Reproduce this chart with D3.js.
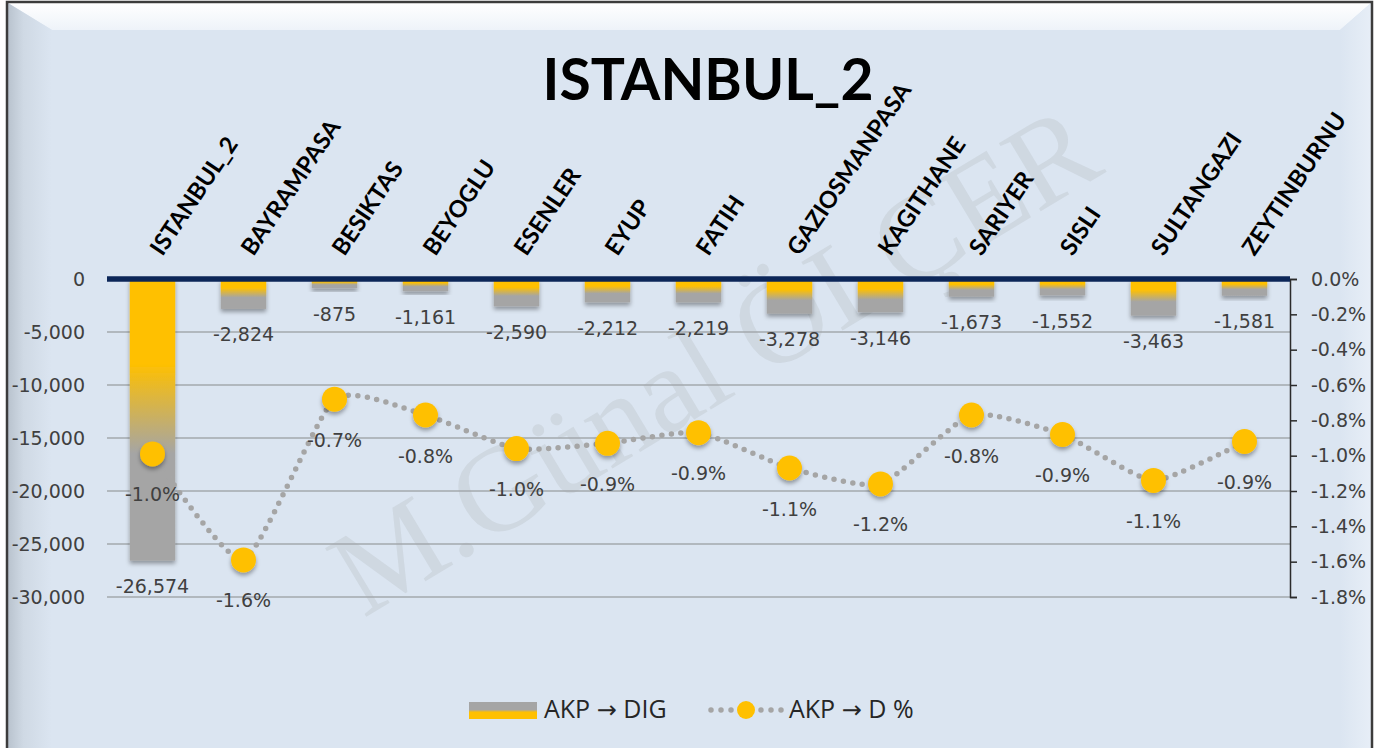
<!DOCTYPE html>
<html>
<head>
<meta charset="utf-8">
<script src="https://cdn.jsdelivr.net/npm/d3@7"></script>
<style>
    body { margin: 0; background: #fff; }
    svg { display: block; }
</style>
</head>
<body>
<svg id="chart"></svg>
<script>
// data
const CATEGORIES = ['ISTANBUL_2', 'BAYRAMPASA', 'BESIKTAS', 'BEYOGLU', 'ESENLER', 'EYUP', 'FATIH',
    'GAZIOSMANPASA', 'KAGITHANE', 'SARIYER', 'SISLI', 'SULTANGAZI', 'ZEYTINBURNU'];
const DIG_VALUES = [-26574, -2824, -875, -1161, -2590, -2212, -2219, -3278, -3146, -1673, -1552, -3463, -1581];
const PCT_VALUES = [-0.99, -1.59, -0.68, -0.77, -0.96, -0.93, -0.87, -1.07, -1.16, -0.77, -0.88, -1.14, -0.92];
const LEFT_TICKS = [0, -5000, -10000, -15000, -20000, -25000, -30000];
const RIGHT_TICKS = [0, -0.2, -0.4, -0.6, -0.8, -1.0, -1.2, -1.4, -1.6, -1.8];
const TITLE = 'ISTANBUL_2';
const LEGEND_BAR = ['AKP ', '\u2192', ' DIG'];
const LEGEND_LINE = ['AKP ', '\u2192', ' D %'];
const WATERMARK = 'M.G\u00fcnal \u00d6L\u00c7ER';

const WIDTH = 1383;
const HEIGHT = 748;

const PLOT_LEFT = 107;
const PLOT_RIGHT = 1290;
const Y_ZERO = 279;
const Y_BOTTOM = 597;

const COLORS = {
    face: '#dbe5f1',
    yellow: '#ffc000',
    gray: '#a5a5a5',
    zero: '#0c2658',
    grid: '#a3a8ad',
    text: '#404040'
};
const NUM_FONT = '"DejaVu Sans", Verdana, sans-serif';
const CAT_FONT = 'Lato, "Open Sans", sans-serif';
const LEG_FONT = '"Open Sans", sans-serif';

// plain hyphen as minus sign, like the original
const locale = d3.formatLocale({ decimal: '.', thousands: ',', grouping: [3], currency: ['', ''], minus: '-' });
const fmtNum = locale.format(',');
const fmtPct = d => locale.format('.1%')(d / 100);

const svg = d3.select('#chart').attr('width', WIDTH).attr('height', HEIGHT);
const defs = svg.append('defs');

const x = d3.scaleBand()
    .domain(CATEGORIES)
    .range([PLOT_LEFT, PLOT_RIGHT])
    .paddingInner(0.5)
    .paddingOuter(0.25);
const y = d3.scaleLinear().domain([-30000, 0]).range([Y_BOTTOM, Y_ZERO]);
const yPct = d3.scaleLinear().domain([-1.8, 0]).range([Y_BOTTOM, Y_ZERO]);

makeDefs();
drawFrame();
drawWatermark();
drawTitle();
drawGrid();
drawBars();
drawLine();
drawAxes();
drawCategoryLabels();
drawLegend();

function makeDefs() {
    const barGrad = defs.append('linearGradient')
        .attr('id', 'barGrad').attr('x1', 0).attr('y1', 0).attr('x2', 0).attr('y2', 1);
    barGrad.append('stop').attr('offset', '0').attr('stop-color', COLORS.yellow);
    barGrad.append('stop').attr('offset', '0.3').attr('stop-color', COLORS.yellow);
    barGrad.append('stop').attr('offset', '0.62').attr('stop-color', COLORS.gray);
    barGrad.append('stop').attr('offset', '1').attr('stop-color', COLORS.gray);

    const legGrad = defs.append('linearGradient')
        .attr('id', 'legGrad').attr('x1', 0).attr('y1', 0).attr('x2', 0).attr('y2', 1);
    legGrad.append('stop').attr('offset', '0').attr('stop-color', COLORS.gray);
    legGrad.append('stop').attr('offset', '0.45').attr('stop-color', COLORS.gray);
    legGrad.append('stop').attr('offset', '0.6').attr('stop-color', COLORS.yellow);
    legGrad.append('stop').attr('offset', '1').attr('stop-color', COLORS.yellow);

    const topGrad = defs.append('linearGradient')
        .attr('id', 'topGrad').attr('x1', 0).attr('y1', 0).attr('x2', 0).attr('y2', 1);
    topGrad.append('stop').attr('offset', '0').attr('stop-color', '#ffffff');
    topGrad.append('stop').attr('offset', '1').attr('stop-color', '#eef3f9');

    const leftGrad = defs.append('linearGradient')
        .attr('id', 'leftGrad').attr('x1', 0).attr('y1', 0).attr('x2', 1).attr('y2', 0);
    leftGrad.append('stop').attr('offset', '0').attr('stop-color', '#b9c3ce');
    leftGrad.append('stop').attr('offset', '0.35').attr('stop-color', '#cfd9e4');
    leftGrad.append('stop').attr('offset', '1').attr('stop-color', COLORS.face);

    const rightGrad = defs.append('linearGradient')
        .attr('id', 'rightGrad').attr('x1', 0).attr('y1', 0).attr('x2', 1).attr('y2', 0);
    rightGrad.append('stop').attr('offset', '0').attr('stop-color', COLORS.face);
    rightGrad.append('stop').attr('offset', '1').attr('stop-color', '#e7eef7');

    const shadow = defs.append('filter').attr('id', 'shadow')
        .attr('x', '-30%').attr('y', '-30%').attr('width', '160%').attr('height', '160%');
    shadow.append('feDropShadow')
        .attr('dx', 0).attr('dy', 3).attr('stdDeviation', 2)
        .attr('flood-color', '#000').attr('flood-opacity', 0.35);

    const soft = defs.append('filter').attr('id', 'soft');
    soft.append('feGaussianBlur').attr('stdDeviation', 0.6);
}

function drawFrame() {
    svg.append('rect')
        .attr('x', 8).attr('y', 3).attr('width', 1363).attr('height', HEIGHT)
        .attr('fill', COLORS.face);
    // bevel edges
    svg.append('path')
        .attr('d', 'M8,3 L1371,3 L1340,30 L52,30 Z')
        .attr('fill', 'url(#topGrad)');
    svg.append('path')
        .attr('d', 'M8,3 L52,30 L52,' + HEIGHT + ' L8,' + HEIGHT + ' Z')
        .attr('fill', 'url(#leftGrad)');
    svg.append('path')
        .attr('d', 'M1371,3 L1340,30 L1340,' + HEIGHT + ' L1371,' + HEIGHT + ' Z')
        .attr('fill', 'url(#rightGrad)');
    svg.append('rect')
        .attr('x', 7).attr('y', 2).attr('width', 1365).attr('height', HEIGHT + 10)
        .attr('fill', 'none').attr('stroke', '#3c3c3c').attr('stroke-width', 2.5);
}

function drawWatermark() {
    svg.append('text')
        .text(WATERMARK)
        .attr('transform', 'translate(735,395) rotate(-31)')
        .attr('text-anchor', 'middle')
        .attr('font-family', '"Liberation Serif", "DejaVu Serif", serif')
        .attr('font-size', 122)
        .attr('fill', '#b4b8bc')
        .attr('fill-opacity', 0.3);
}

function drawTitle() {
    svg.append('text')
        .text(TITLE)
        .attr('x', 708).attr('y', 100)
        .attr('text-anchor', 'middle')
        .attr('font-family', CAT_FONT)
        .attr('font-weight', 700)
        .attr('font-size', 57)
        .attr('fill', '#000');
}

function drawGrid() {
    svg.append('g')
        .selectAll('line')
        .data(LEFT_TICKS.filter(d => d !== 0))
        .join('line')
        .attr('x1', PLOT_LEFT).attr('x2', PLOT_RIGHT)
        .attr('y1', d => y(d)).attr('y2', d => y(d))
        .attr('stroke', COLORS.grid).attr('stroke-width', 1.5);
}

function drawBars() {
    const bars = svg.append('g');
    bars.selectAll('rect')
        .data(DIG_VALUES)
        .join('rect')
        .attr('x', (d, i) => x(CATEGORIES[i]))
        .attr('y', y(0))
        .attr('width', x.bandwidth())
        .attr('height', d => y(d) - y(0))
        .attr('fill', 'url(#barGrad)')
        .attr('filter', 'url(#shadow)');

    bars.selectAll('text')
        .data(DIG_VALUES)
        .join('text')
        .text(d => fmtNum(d))
        .attr('x', (d, i) => x(CATEGORIES[i]) + x.bandwidth() / 2)
        .attr('y', d => y(d) + 27)
        .attr('text-anchor', 'middle')
        .attr('dominant-baseline', 'middle')
        .attr('font-family', NUM_FONT)
        .attr('font-size', 19)
        .attr('fill', COLORS.text);
}

function drawLine() {
    const cx = i => x(CATEGORIES[i]) + x.bandwidth() / 2;
    const line = d3.line()
        .x((d, i) => cx(i))
        .y(d => yPct(d))
        .curve(d3.curveCardinal.tension(0.45));

    const g = svg.append('g');
    g.append('path')
        .datum(PCT_VALUES)
        .attr('d', line)
        .attr('fill', 'none')
        .attr('stroke', COLORS.gray)
        .attr('stroke-width', 5.5)
        .attr('stroke-linecap', 'round')
        .attr('stroke-dasharray', '0 9.5')
        .attr('filter', 'url(#soft)');

    g.selectAll('circle')
        .data(PCT_VALUES)
        .join('circle')
        .attr('cx', (d, i) => cx(i))
        .attr('cy', d => yPct(d))
        .attr('r', 12.5)
        .attr('fill', COLORS.yellow)
        .attr('filter', 'url(#shadow)');

    g.selectAll('text')
        .data(PCT_VALUES)
        .join('text')
        .text(d => fmtPct(d))
        .attr('x', (d, i) => cx(i))
        .attr('y', d => yPct(d) + 42)
        .attr('text-anchor', 'middle')
        .attr('dominant-baseline', 'middle')
        .attr('font-family', NUM_FONT)
        .attr('font-size', 19)
        .attr('fill', COLORS.text);
}

function drawAxes() {
    const left = svg.append('g')
        .attr('transform', 'translate(' + (PLOT_LEFT - 19) + ',0)')
        .call(d3.axisLeft(y).tickValues(LEFT_TICKS).tickSize(0).tickFormat(fmtNum));
    left.select('.domain').remove();
    left.selectAll('text')
        .attr('font-family', NUM_FONT).attr('font-size', 19).attr('fill', COLORS.text);

    const right = svg.append('g')
        .attr('transform', 'translate(' + PLOT_RIGHT + ',0)')
        .call(d3.axisRight(yPct).tickValues(RIGHT_TICKS).tickSize(7).tickSizeOuter(7)
            .tickPadding(14).tickFormat(fmtPct));
    right.select('.domain').attr('stroke', '#2b2b2b').attr('stroke-width', 1.5);
    right.selectAll('.tick line').attr('stroke', '#2b2b2b').attr('stroke-width', 1.5);
    right.selectAll('text')
        .attr('font-family', NUM_FONT).attr('font-size', 19).attr('fill', COLORS.text);

    // bold zero line across the plot
    svg.append('line')
        .attr('x1', PLOT_LEFT).attr('x2', PLOT_RIGHT)
        .attr('y1', y(0)).attr('y2', y(0))
        .attr('stroke', COLORS.zero).attr('stroke-width', 5.5);
}

function drawCategoryLabels() {
    svg.append('g')
        .selectAll('text')
        .data(CATEGORIES)
        .join('text')
        .text(d => d)
        .attr('transform', d => 'translate(' + (x(d) + x.bandwidth() / 2 + 10) + ',257) rotate(-56)')
        .attr('font-family', CAT_FONT)
        .attr('font-weight', 700)
        .attr('font-size', 23.5)
        .attr('fill', '#000');
}

function legendText(g, parts, xPos) {
    const t = g.append('text')
        .attr('x', xPos).attr('y', 718)
        .attr('font-family', LEG_FONT)
        .attr('font-size', 25)
        .attr('fill', '#262626');
    t.append('tspan').text(parts[0]);
    t.append('tspan').text(parts[1]).attr('font-family', NUM_FONT).attr('font-size', 24);
    t.append('tspan').text(parts[2]);
}

function drawLegend() {
    const g = svg.append('g');
    g.append('rect')
        .attr('x', 469).attr('y', 702).attr('width', 68).attr('height', 17)
        .attr('fill', 'url(#legGrad)');
    legendText(g, LEGEND_BAR, 544);

    g.append('line')
        .attr('x1', 711).attr('x2', 782)
        .attr('y1', 710).attr('y2', 710)
        .attr('stroke', COLORS.gray)
        .attr('stroke-width', 5.5)
        .attr('stroke-linecap', 'round')
        .attr('stroke-dasharray', '0 10');
    g.append('circle')
        .attr('cx', 746).attr('cy', 710).attr('r', 9)
        .attr('fill', COLORS.yellow);
    legendText(g, LEGEND_LINE, 789);
}
</script>
</body>
</html>
